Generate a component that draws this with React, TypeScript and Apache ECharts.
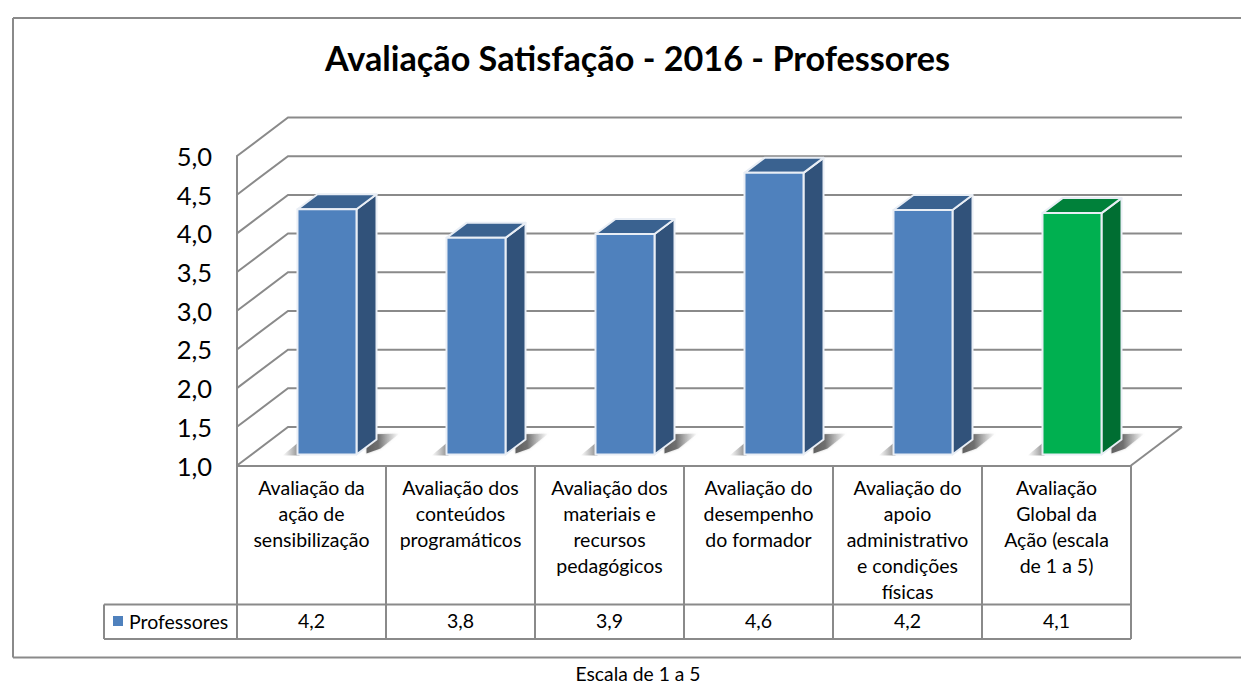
import React, { useEffect, useRef } from "react";
import * as echarts from "echarts";

const categories = [
  "Avaliação da\nação de\nsensibilização",
  "Avaliação dos\nconteúdos\nprogramáticos",
  "Avaliação dos\nmateriais e\nrecursos\npedagógicos",
  "Avaliação do\ndesempenho\ndo formador",
  "Avaliação do\napoio\nadministrativo\ne condições\nfísicas",
  "Avaliação\nGlobal da\nAção (escala\nde 1 a 5)",
];
const tableValues = ["4,2", "3,8", "3,9", "4,6", "4,2", "4,1"];
const barValues = [4.17, 3.8, 3.85, 4.64, 4.16, 4.12];
const gridLevels = [1, 1.5, 2, 2.5, 3, 3.5, 4, 4.5, 5];
const seriesName = "Professores";
const title = "Avaliação Satisfação - 2016 - Professores";
const footnote = "Escala de 1 a 5";

const FONT = "Lato";
const GRAY = "#8a8a8a";
const DX = 51;
const DY = -38.5;
const PLOT_W = 894;
const BAR_W = 59;
const BAR_DX = 15.5;
const BAR_DY = -11;
const BLUE = { front: "#4f81bd", side: "#31527a", top: "#3a6290" };
const GREEN = { front: "#00b050", side: "#006e32", top: "#00813a" };

const hShade = (stops: [number, string][]) => ({
  type: "linear",
  x: 0,
  y: 0,
  x2: 1,
  y2: 0,
  colorStops: stops.map(([offset, color]) => ({ offset, color })),
});

const wallsRender = (params: any, api: any) => {
  const v = api.value(0);
  const [cx, y] = api.coord([0, v]);
  const x0 = cx - PLOT_W / categories.length / 2;
  const x1 = x0 + PLOT_W;
  const children: any[] = [
    {
      type: "polyline",
      shape: { points: [[x0, y], [x0 + DX, y + DY], [x1 + DX, y + DY]] },
      style: { stroke: GRAY, lineWidth: 2, fill: "none" },
    },
  ];
  if (v === gridLevels[0]) {
    children.push({
      type: "line",
      shape: { x1: x1, y1: y, x2: x1 + DX, y2: y + DY },
      style: { stroke: GRAY, lineWidth: 2 },
    });
  }
  return { type: "group", children };
};

const barsRender = (params: any, api: any) => {
  const i = api.value(0);
  const v = api.value(1);
  const [cx, yTop0] = api.coord([i, v]);
  const [, yBase0] = api.coord([i, 1]);
  const xl = cx - BAR_W / 2 + BAR_DX;
  const xr = xl + BAR_W;
  const yt = yTop0 + BAR_DY;
  const yb = yBase0 + BAR_DY;
  const c = i === barValues.length - 1 ? GREEN : BLUE;
  const dx = 20;
  const dy = -15;
  const edge = { stroke: "#e9eef5", lineWidth: 2, lineJoin: "round" };
  return {
    type: "group",
    children: [
      {
        type: "polygon",
        shape: { points: [[xl - 15, yb + 1], [xl + 2, yb - 13], [xl + 2, yb + 1]] },
        style: {
          fill: hShade([[0, "rgba(130,130,130,0)"], [1, "rgba(110,110,110,0.85)"]]),
        },
      },
      {
        type: "polygon",
        shape: { points: [[xr + 10, yb - 1], [xr + 10, yb - 20], [xr + 43, yb - 21], [xr + 24, yb - 6]] },
        style: {
          fill: hShade([[0, "rgba(90,90,90,0.95)"], [0.35, "rgba(100,100,100,0.9)"], [1, "rgba(170,170,170,0)"]]),
          shadowBlur: 2,
          shadowColor: "rgba(140,140,140,0.5)",
        },
      },
      {
        type: "polygon",
        shape: { points: [[xr, yt], [xr + dx, yt + dy], [xr + dx, yb + dy], [xr, yb]] },
        style: { fill: c.side, ...edge },
      },
      {
        type: "polygon",
        shape: { points: [[xl, yt], [xl + dx, yt + dy], [xr + dx, yt + dy], [xr, yt]] },
        style: { fill: c.top, ...edge },
      },
      {
        type: "rect",
        shape: { x: xl, y: yt, width: BAR_W, height: yb - yt },
        style: { fill: c.front, ...edge },
      },
    ],
  };
};

const tableLine = (x1: number, y1: number, x2: number, y2: number) => ({
  type: "line",
  shape: { x1, y1, x2, y2 },
  style: { stroke: GRAY, lineWidth: 2 },
  silent: true,
});

export default function App() {
  const ref = useRef<HTMLDivElement>(null);
  useEffect(() => {
    document.body.style.margin = "0";
    const chart = echarts.init(ref.current!, undefined, { renderer: "svg" });
    const colX = [237, 386, 535, 684, 833, 982, 1131];
    chart.setOption({
      animation: false,
      backgroundColor: "#ffffff",
      title: {
        text: title,
        left: 632.5,
        top: 35,
        textAlign: "center",
        textStyle: { fontFamily: FONT, fontWeight: "bold", fontSize: 34.2, color: "#000" },
      },
      grid: { left: 237, top: 156, width: PLOT_W, height: 309.5, containLabel: false },
      xAxis: [
        {
          type: "category",
          data: categories,
          axisLine: { show: true, lineStyle: { color: GRAY, width: 2 } },
          axisTick: { show: false },
          axisLabel: {
            interval: 0,
            margin: 9,
            fontFamily: FONT,
            fontSize: 19.5,
            lineHeight: 26,
            color: "#000",
            verticalAlign: "top",
          },
        },
        {
          type: "category",
          position: "bottom",
          offset: 145,
          data: tableValues,
          axisLine: { show: false },
          axisTick: { show: false },
          axisLabel: { interval: 0, margin: 0, fontFamily: FONT, fontSize: 19.5, color: "#000", verticalAlign: "top" },
        },
      ],
      yAxis: {
        type: "value",
        min: 1,
        max: 5,
        interval: 0.5,
        axisLine: { show: true, lineStyle: { color: GRAY, width: 2 } },
        axisTick: { show: false },
        splitLine: { show: false },
        axisLabel: {
          margin: 25,
          fontFamily: FONT,
          fontSize: 25.5,
          color: "#000",
          formatter: (v: number) => v.toFixed(1).replace(".", ","),
        },
      },
      series: [
        {
          type: "custom",
          name: "Grade",
          coordinateSystem: "cartesian2d",
          renderItem: wallsRender,
          data: gridLevels.map((v) => [v]),
          encode: { y: 0 },
          silent: true,
          clip: false,
          z: 1,
        },
        {
          type: "custom",
          name: seriesName,
          coordinateSystem: "cartesian2d",
          renderItem: barsRender,
          data: barValues.map((v, i) => [i, v]),
          encode: { x: 0, y: 1 },
          clip: false,
          z: 2,
        },
      ],
      graphic: [
        tableLine(13, 18, 1241, 18),
        tableLine(13, 18, 13, 657.5),
        tableLine(13, 657.5, 1241, 657.5),
        ...colX.map((x) => tableLine(x, 465.5, x, 639)),
        tableLine(104, 604.5, 1131, 604.5),
        tableLine(104, 639, 1131, 639),
        tableLine(104, 604.5, 104, 639),
        { type: "rect", shape: { x: 113, y: 616, width: 10, height: 10 }, style: { fill: BLUE.front } },
        {
          type: "text",
          x: 129,
          y: 621,
          style: { text: seriesName, fontFamily: FONT, fontSize: 19.5, fill: "#000", verticalAlign: "middle" },
        },
        {
          type: "text",
          x: 638,
          y: 673,
          style: { text: footnote, fontFamily: FONT, fontSize: 19.3, fill: "#000", align: "center", verticalAlign: "middle" },
        },
      ],
    });
    return () => chart.dispose();
  }, []);
  return <div ref={ref} style={{ position: "fixed", left: 0, top: 0, width: 1241, height: 684 }} />;
}
